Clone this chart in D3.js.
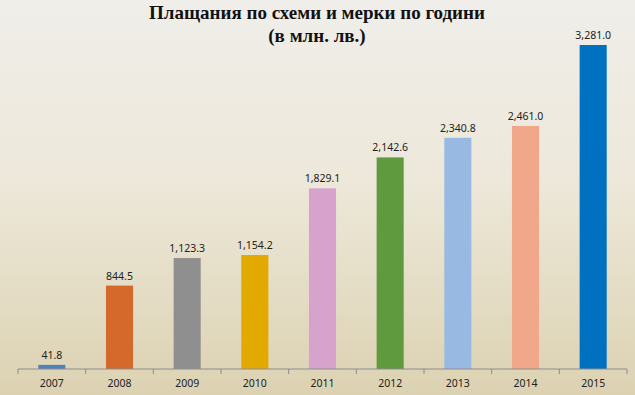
<!DOCTYPE html>
<html>
<head>
<meta charset="utf-8">
<script src="https://cdn.jsdelivr.net/npm/d3@7"></script>
<style>
  body { margin: 0; }
  svg { display: block; }
</style>
</head>
<body>
<div id="chart"></div>
<script>
const W = 635, H = 395;
const margin = {top: 45, right: 8, bottom: 26, left: 18};

const years = ["2007", "2008", "2009", "2010", "2011", "2012", "2013", "2014", "2015"];
const payments = [41.8, 844.5, 1123.3, 1154.2, 1829.1, 2142.6, 2340.8, 2461.0, 3281.0];
const barColors = ["#4F81BD", "#D4692B", "#8F8F8F", "#E2A900", "#D7A3CD",
                   "#5F9A3F", "#98B9E1", "#F0A78A", "#0070C0"];
const titleLines = ["Плащания по схеми и мерки по години", "(в млн. лв.)"];

const svg = d3.select("#chart").append("svg")
  .attr("width", W)
  .attr("height", H);

// background gradient
const grad = svg.append("defs").append("linearGradient")
  .attr("id", "bg")
  .attr("x1", 0).attr("y1", 0).attr("x2", 0).attr("y2", 1);
grad.append("stop").attr("offset", "0%").attr("stop-color", "#F0EEEA");
grad.append("stop").attr("offset", "45%").attr("stop-color", "#EDE8DA");
grad.append("stop").attr("offset", "100%").attr("stop-color", "#DCD2B2");
svg.append("rect").attr("width", W).attr("height", H).attr("fill", "url(#bg)");

// title
svg.append("g").selectAll("text")
  .data(titleLines)
  .join("text")
  .attr("x", 317)
  .attr("y", (d, i) => 19 + i * 23)
  .attr("text-anchor", "middle")
  .style("font-family", "'Liberation Serif', 'Times New Roman', serif")
  .style("font-weight", "bold")
  .style("font-size", "19px")
  .attr("fill", "#111")
  .text(d => d);

const width = W - margin.left - margin.right,
      height = H - margin.top - margin.bottom;

const g = svg.append("g")
  .attr("transform", `translate(${margin.left},${margin.top})`);

const x = d3.scaleBand()
  .domain(years)
  .range([0, width])
  .paddingInner(0.6)
  .paddingOuter(0.3);

const y = d3.scaleLinear()
  .domain([0, d3.max(payments)])
  .range([height, 0]);

const data = years.map((yr, i) => ({year: yr, value: payments[i], color: barColors[i]}));

// bars
g.selectAll("rect.bar")
  .data(data)
  .join("rect")
  .attr("class", "bar")
  .attr("x", d => x(d.year))
  .attr("y", d => y(d.value))
  .attr("width", x.bandwidth())
  .attr("height", d => height - y(d.value))
  .attr("fill", d => d.color);

// value labels
const fmt = d3.format(",.1f");
g.selectAll("text.val")
  .data(data)
  .join("text")
  .attr("class", "val")
  .attr("x", d => x(d.year) + x.bandwidth() / 2)
  .attr("y", d => y(d.value) - 6)
  .attr("text-anchor", "middle")
  .style("font-family", "'Noto Sans', 'DejaVu Sans', sans-serif")
  .style("font-size", "10.5px")
  .attr("fill", "#222")
  .text(d => fmt(d.value));

// x axis with boundary ticks between categories
const step = x.step();
const axis = g.append("g").attr("transform", `translate(0,${height})`);
axis.append("line")
  .attr("x1", 0).attr("x2", width)
  .attr("stroke", "#8C8C8C");
axis.selectAll("line.tick")
  .data(d3.range(years.length + 1))
  .join("line")
  .attr("class", "tick")
  .attr("x1", i => i * step).attr("x2", i => i * step)
  .attr("y1", 0).attr("y2", 5)
  .attr("stroke", "#8C8C8C");
axis.selectAll("text")
  .data(years)
  .join("text")
  .attr("x", d => x(d) + x.bandwidth() / 2)
  .attr("y", 18)
  .attr("text-anchor", "middle")
  .style("font-family", "'Noto Sans', 'DejaVu Sans', sans-serif")
  .style("font-size", "10.5px")
  .attr("fill", "#222")
  .text(d => d);
</script>
</body>
</html>
